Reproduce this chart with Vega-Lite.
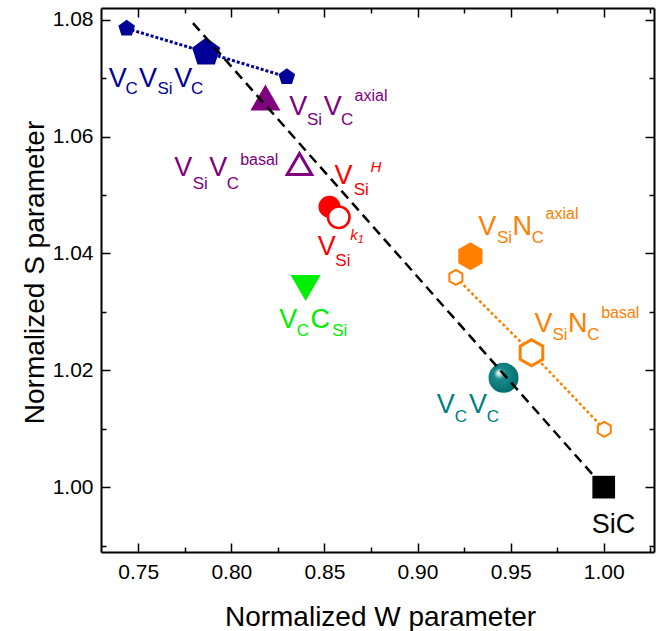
{
  "$schema": "https://vega.github.io/schema/vega-lite/v6.json",
  "width": 553,
  "height": 544,
  "autosize": {"type": "none"},
  "padding": {"left": 101, "top": 8, "right": 2, "bottom": 79},
  "background": "white",
  "config": {
    "view": {"stroke": null},
    "font": "Liberation Sans",
    "axis": {"grid": false, "labelFont": "Liberation Sans", "titleFont": "Liberation Sans", "domainColor": "black", "tickColor": "black", "labelColor": "black", "titleColor": "black"},
    "text": {"font": "Liberation Sans"}
  },
  "resolve": {"axis": {"x": "independent", "y": "independent"}},
  "datasets": {
    "pts": [
      {"kind": "pent_s", "series": "VCVSiVC", "x": 0.7438, "y": 1.0785},
      {"kind": "pent_l", "series": "VCVSiVC", "x": 0.7865, "y": 1.0744},
      {"kind": "pent_s", "series": "VCVSiVC", "x": 0.8298, "y": 1.0702},
      {"kind": "tri_f", "series": "VSiVC axial", "x": 0.8183, "y": 1.0667},
      {"kind": "tri_o", "series": "VSiVC basal", "x": 0.8366, "y": 1.0553},
      {"kind": "circ_f", "series": "VSi H", "x": 0.8527, "y": 1.048},
      {"kind": "circ_o", "series": "VSi k1", "x": 0.8577, "y": 1.0462},
      {"kind": "tri_d", "series": "VCCSi", "x": 0.8399, "y": 1.0341},
      {"kind": "hex_f", "series": "VSiNC axial", "x": 0.9284, "y": 1.0395},
      {"kind": "hex_s", "series": "VSiNC basal", "x": 0.9206, "y": 1.0359},
      {"kind": "hex_m", "series": "VSiNC basal", "x": 0.9612, "y": 1.023},
      {"kind": "hex_s", "series": "VSiNC basal", "x": 1.0003, "y": 1.0099},
      {"kind": "sphere", "series": "VCVC", "x": 0.9462, "y": 1.0187},
      {"kind": "square", "series": "SiC", "x": 1.0, "y": 1.0}
    ],
    "lines": [
      {"grp": "VCVSiVC", "o": 1, "x": 0.7438, "y": 1.0785},
      {"grp": "VCVSiVC", "o": 2, "x": 0.7865, "y": 1.0744},
      {"grp": "VCVSiVC", "o": 3, "x": 0.8298, "y": 1.0702},
      {"grp": "VSiNC", "o": 1, "x": 0.9206, "y": 1.0359},
      {"grp": "VSiNC", "o": 2, "x": 0.9612, "y": 1.023},
      {"grp": "VSiNC", "o": 3, "x": 1.0003, "y": 1.0099},
      {"grp": "guide", "o": 1, "x": 0.7794, "y": 1.0794},
      {"grp": "guide", "o": 2, "x": 1.0, "y": 1.0}
    ],
    "labels": [
      {"series": "VCVSiVC", "role": "main", "t": "V", "x": 0.739, "y": 1.0685},
      {"series": "VCVSiVC", "role": "sub", "t": "C", "x": 0.7465, "y": 1.0673},
      {"series": "VCVSiVC", "role": "main", "t": "V", "x": 0.7552, "y": 1.0685},
      {"series": "VCVSiVC", "role": "sub", "t": "Si", "x": 0.7644, "y": 1.0673},
      {"series": "VCVSiVC", "role": "main", "t": "V", "x": 0.7742, "y": 1.0685},
      {"series": "VCVSiVC", "role": "sub", "t": "C", "x": 0.7817, "y": 1.0673},
      {"series": "VSiVC", "role": "main", "t": "V", "x": 0.836, "y": 1.0637},
      {"series": "VSiVC", "role": "sub", "t": "Si", "x": 0.8447, "y": 1.062},
      {"series": "VSiVC", "role": "main", "t": "V", "x": 0.8544, "y": 1.0637},
      {"series": "VSiVC", "role": "sub", "t": "C", "x": 0.8622, "y": 1.062},
      {"series": "VSiVC", "role": "sup", "t": "axial", "x": 0.875, "y": 1.0661},
      {"series": "VSiVC", "role": "main", "t": "V", "x": 0.7742, "y": 1.0532},
      {"series": "VSiVC", "role": "sub", "t": "Si", "x": 0.7833, "y": 1.051},
      {"series": "VSiVC", "role": "main", "t": "V", "x": 0.793, "y": 1.0532},
      {"series": "VSiVC", "role": "sub", "t": "C", "x": 0.8008, "y": 1.051},
      {"series": "VSiVC", "role": "sup", "t": "basal", "x": 0.815, "y": 1.0551},
      {"series": "VSi", "role": "main", "t": "V", "x": 0.8602, "y": 1.0518},
      {"series": "VSi", "role": "sub", "t": "Si", "x": 0.8698, "y": 1.05},
      {"series": "VSi", "role": "supit", "t": "H", "x": 0.8776, "y": 1.054},
      {"series": "VSi", "role": "main", "t": "V", "x": 0.8513, "y": 1.0398},
      {"series": "VSi", "role": "sub", "t": "Si", "x": 0.8599, "y": 1.0379},
      {"series": "VSi", "role": "supit", "t": "k", "x": 0.8659, "y": 1.0423},
      {"series": "VSi", "role": "supsub", "t": "1", "x": 0.8696, "y": 1.0417},
      {"series": "VCCSi", "role": "main", "t": "V", "x": 0.8306, "y": 1.0272},
      {"series": "VCCSi", "role": "sub", "t": "C", "x": 0.8384, "y": 1.0258},
      {"series": "VCCSi", "role": "main", "t": "C", "x": 0.8478, "y": 1.0272},
      {"series": "VCCSi", "role": "sub", "t": "Si", "x": 0.8582, "y": 1.0258},
      {"series": "VSiNC", "role": "main", "t": "V", "x": 0.9374, "y": 1.0432},
      {"series": "VSiNC", "role": "sub", "t": "Si", "x": 0.9467, "y": 1.0418},
      {"series": "VSiNC", "role": "main", "t": "N", "x": 0.9563, "y": 1.0432},
      {"series": "VSiNC", "role": "sub", "t": "C", "x": 0.9647, "y": 1.0418},
      {"series": "VSiNC", "role": "sup", "t": "axial", "x": 0.9776, "y": 1.0459},
      {"series": "VSiNC", "role": "main", "t": "V", "x": 0.9677, "y": 1.0266},
      {"series": "VSiNC", "role": "sub", "t": "Si", "x": 0.9765, "y": 1.0252},
      {"series": "VSiNC", "role": "main", "t": "N", "x": 0.9861, "y": 1.0266},
      {"series": "VSiNC", "role": "sub", "t": "C", "x": 0.9944, "y": 1.0252},
      {"series": "VSiNC", "role": "sup", "t": "basal", "x": 1.0089, "y": 1.0289},
      {"series": "VCVC", "role": "main", "t": "V", "x": 0.9151, "y": 1.0127},
      {"series": "VCVC", "role": "sub", "t": "C", "x": 0.9233, "y": 1.0112},
      {"series": "VCVC", "role": "main", "t": "V", "x": 0.9325, "y": 1.0127},
      {"series": "VCVC", "role": "sub", "t": "C", "x": 0.9405, "y": 1.0112},
      {"series": "SiC", "role": "main", "t": "SiC", "x": 1.0053, "y": 0.9921}
    ]
  },
  "layer": [
    {
      "data": {"name": "lines"},
      "transform": [{"filter": "datum.grp === 'VCVSiVC'"}],
      "mark": {"type": "line", "color": "#000099", "strokeWidth": 3, "strokeDash": [3, 2]},
      "encoding": {
        "x": {"field": "x", "type": "quantitative", "scale": {"domain": [0.73, 1.027], "nice": false, "zero": false},
          "axis": {"orient": "bottom", "values": [0.75, 0.8, 0.85, 0.9, 0.95, 1.0], "format": ".2f", "tickSize": -9, "tickWidth": 1.5, "domainWidth": 2, "labelFontSize": 21, "labelPadding": 18, "labelFlush": false, "labelOverlap": false, "title": "Normalized W parameter", "titleFontSize": 28, "titleFontWeight": "normal", "titleBaseline": "alphabetic", "titleX": 279, "titleY": 73}},
        "y": {"field": "y", "type": "quantitative", "scale": {"domain": [0.9889, 1.082], "nice": false, "zero": false},
          "axis": {"orient": "left", "values": [1.0, 1.02, 1.04, 1.06, 1.08], "format": ".2f", "tickSize": -9, "tickWidth": 1.5, "domainWidth": 2, "labelFontSize": 21, "labelPadding": 17, "labelFlush": false, "labelOverlap": false, "title": "Normalized S parameter", "titleFontSize": 28, "titleFontWeight": "normal", "titleBaseline": "alphabetic", "titleX": -58, "titleY": 264, "titleAngle": 270}},
        "order": {"field": "o", "type": "quantitative"}
      }
    },
    {
      "data": {"name": "lines"},
      "transform": [{"filter": "datum.grp === 'VSiNC'"}],
      "mark": {"type": "line", "color": "#ff8000", "strokeWidth": 2.5, "strokeDash": [3, 2.5]},
      "encoding": {
        "x": {"field": "x", "type": "quantitative", "scale": {"domain": [0.73, 1.027], "nice": false, "zero": false},
          "axis": {"orient": "top", "values": [0.75, 0.8, 0.85, 0.9, 0.95, 1.0], "labels": false, "tickSize": -9, "tickWidth": 1.5, "domainWidth": 2, "title": null}},
        "y": {"field": "y", "type": "quantitative", "scale": {"domain": [0.9889, 1.082], "nice": false, "zero": false},
          "axis": {"orient": "right", "values": [1.0, 1.02, 1.04, 1.06, 1.08], "labels": false, "tickSize": -9, "tickWidth": 1.5, "domainWidth": 2, "title": null}},
        "order": {"field": "o", "type": "quantitative"}
      }
    },
    {
      "data": {"name": "pts"},
      "transform": [{"filter": "datum.kind === 'pent_s'"}],
      "mark": {"type": "point", "shape": "M0,-1L0.951,-0.309L0.588,0.809L-0.588,0.809L-0.951,-0.309Z", "filled": true, "color": "#000099", "opacity": 1, "size": 310},
      "encoding": {
        "x": {"field": "x", "type": "quantitative", "scale": {"domain": [0.73, 1.027], "nice": false, "zero": false},
          "axis": {"orient": "bottom", "values": [0.775, 0.825, 0.875, 0.925, 0.975, 1.025], "labels": false, "domain": false, "tickSize": -5, "tickWidth": 1.5, "title": null}},
        "y": {"field": "y", "type": "quantitative", "scale": {"domain": [0.9889, 1.082], "nice": false, "zero": false},
          "axis": {"orient": "left", "values": [0.99, 1.01, 1.03, 1.05, 1.07], "labels": false, "domain": false, "tickSize": -5, "tickWidth": 1.5, "title": null}}
      }
    },
    {
      "data": {"name": "pts"},
      "transform": [{"filter": "datum.kind === 'pent_l'"}],
      "mark": {"type": "point", "shape": "M0,-1L0.951,-0.309L0.588,0.809L-0.588,0.809L-0.951,-0.309Z", "filled": true, "color": "#000099", "opacity": 1, "size": 880},
      "encoding": {
        "x": {"field": "x", "type": "quantitative", "scale": {"domain": [0.73, 1.027], "nice": false, "zero": false},
          "axis": {"orient": "top", "values": [0.775, 0.825, 0.875, 0.925, 0.975, 1.025], "labels": false, "domain": false, "tickSize": -5, "tickWidth": 1.5, "title": null}},
        "y": {"field": "y", "type": "quantitative", "scale": {"domain": [0.9889, 1.082], "nice": false, "zero": false},
          "axis": {"orient": "right", "values": [0.99, 1.01, 1.03, 1.05, 1.07], "labels": false, "domain": false, "tickSize": -5, "tickWidth": 1.5, "title": null}}
      }
    },
    {
      "data": {"name": "pts"},
      "transform": [{"filter": "datum.kind === 'tri_f'"}],
      "mark": {"type": "point", "shape": "triangle-up", "filled": true, "color": "#800080", "opacity": 1, "size": 900},
      "encoding": {
        "x": {"field": "x", "type": "quantitative", "scale": {"domain": [0.73, 1.027], "nice": false, "zero": false}, "axis": null},
        "y": {"field": "y", "type": "quantitative", "scale": {"domain": [0.9889, 1.082], "nice": false, "zero": false}, "axis": null}
      }
    },
    {
      "data": {"name": "pts"},
      "transform": [{"filter": "datum.kind === 'tri_o'"}],
      "mark": {"type": "point", "shape": "triangle-up", "fill": "white", "stroke": "#800080", "strokeWidth": 3, "opacity": 1, "fillOpacity": 1, "size": 600},
      "encoding": {
        "x": {"field": "x", "type": "quantitative", "scale": {"domain": [0.73, 1.027], "nice": false, "zero": false}, "axis": null},
        "y": {"field": "y", "type": "quantitative", "scale": {"domain": [0.9889, 1.082], "nice": false, "zero": false}, "axis": null}
      }
    },
    {
      "data": {"name": "pts"},
      "transform": [{"filter": "datum.kind === 'circ_f'"}],
      "mark": {"type": "point", "shape": "circle", "filled": true, "color": "#ff0000", "opacity": 1, "size": 484},
      "encoding": {
        "x": {"field": "x", "type": "quantitative", "scale": {"domain": [0.73, 1.027], "nice": false, "zero": false}, "axis": null},
        "y": {"field": "y", "type": "quantitative", "scale": {"domain": [0.9889, 1.082], "nice": false, "zero": false}, "axis": null}
      }
    },
    {
      "data": {"name": "pts"},
      "transform": [{"filter": "datum.kind === 'circ_o'"}],
      "mark": {"type": "point", "shape": "circle", "fill": "white", "stroke": "#ff0000", "strokeWidth": 2.5, "opacity": 1, "fillOpacity": 1, "size": 462},
      "encoding": {
        "x": {"field": "x", "type": "quantitative", "scale": {"domain": [0.73, 1.027], "nice": false, "zero": false}, "axis": null},
        "y": {"field": "y", "type": "quantitative", "scale": {"domain": [0.9889, 1.082], "nice": false, "zero": false}, "axis": null}
      }
    },
    {
      "data": {"name": "pts"},
      "transform": [{"filter": "datum.kind === 'tri_d'"}],
      "mark": {"type": "point", "shape": "triangle-down", "filled": true, "color": "#00ee00", "opacity": 1, "size": 900},
      "encoding": {
        "x": {"field": "x", "type": "quantitative", "scale": {"domain": [0.73, 1.027], "nice": false, "zero": false}, "axis": null},
        "y": {"field": "y", "type": "quantitative", "scale": {"domain": [0.9889, 1.082], "nice": false, "zero": false}, "axis": null}
      }
    },
    {
      "data": {"name": "pts"},
      "transform": [{"filter": "datum.kind === 'hex_f'"}],
      "mark": {"type": "point", "shape": "M0,-1L0.866,-0.5L0.866,0.5L0,1L-0.866,0.5L-0.866,-0.5Z", "filled": true, "color": "#ff8000", "opacity": 1, "size": 784},
      "encoding": {
        "x": {"field": "x", "type": "quantitative", "scale": {"domain": [0.73, 1.027], "nice": false, "zero": false}, "axis": null},
        "y": {"field": "y", "type": "quantitative", "scale": {"domain": [0.9889, 1.082], "nice": false, "zero": false}, "axis": null}
      }
    },
    {
      "data": {"name": "pts"},
      "transform": [{"filter": "datum.kind === 'hex_s'"}],
      "mark": {"type": "point", "shape": "M0,-1L0.866,-0.5L0.866,0.5L0,1L-0.866,0.5L-0.866,-0.5Z", "fill": "white", "stroke": "#ff8000", "strokeWidth": 2, "opacity": 1, "fillOpacity": 1, "size": 225},
      "encoding": {
        "x": {"field": "x", "type": "quantitative", "scale": {"domain": [0.73, 1.027], "nice": false, "zero": false}, "axis": null},
        "y": {"field": "y", "type": "quantitative", "scale": {"domain": [0.9889, 1.082], "nice": false, "zero": false}, "axis": null}
      }
    },
    {
      "data": {"name": "pts"},
      "transform": [{"filter": "datum.kind === 'hex_m'"}],
      "mark": {"type": "point", "shape": "M0,-1L0.866,-0.5L0.866,0.5L0,1L-0.866,0.5L-0.866,-0.5Z", "fill": "white", "stroke": "#ff8000", "strokeWidth": 3, "opacity": 1, "fillOpacity": 1, "size": 680},
      "encoding": {
        "x": {"field": "x", "type": "quantitative", "scale": {"domain": [0.73, 1.027], "nice": false, "zero": false}, "axis": null},
        "y": {"field": "y", "type": "quantitative", "scale": {"domain": [0.9889, 1.082], "nice": false, "zero": false}, "axis": null}
      }
    },
    {
      "data": {"name": "pts"},
      "transform": [{"filter": "datum.kind === 'sphere'"}],
      "mark": {"type": "point", "shape": "circle", "filled": true, "opacity": 1, "strokeWidth": 0, "size": 900,
        "fill": {"gradient": "radial", "x1": 0.33, "y1": 0.33, "r1": 0, "x2": 0.45, "y2": 0.45, "r2": 0.6,
          "stops": [{"offset": 0, "color": "#ffffff"}, {"offset": 0.12, "color": "#b5dcdc"}, {"offset": 0.3, "color": "#1a8c8c"}, {"offset": 1, "color": "#006b6b"}]}},
      "encoding": {
        "x": {"field": "x", "type": "quantitative", "scale": {"domain": [0.73, 1.027], "nice": false, "zero": false}, "axis": null},
        "y": {"field": "y", "type": "quantitative", "scale": {"domain": [0.9889, 1.082], "nice": false, "zero": false}, "axis": null}
      }
    },
    {
      "data": {"name": "lines"},
      "transform": [{"filter": "datum.grp === 'guide'"}],
      "mark": {"type": "line", "color": "black", "strokeWidth": 2.5, "strokeDash": [10, 6]},
      "encoding": {
        "x": {"field": "x", "type": "quantitative", "scale": {"domain": [0.73, 1.027], "nice": false, "zero": false}, "axis": null},
        "y": {"field": "y", "type": "quantitative", "scale": {"domain": [0.9889, 1.082], "nice": false, "zero": false}, "axis": null},
        "order": {"field": "o", "type": "quantitative"}
      }
    },
    {
      "data": {"name": "pts"},
      "transform": [{"filter": "datum.kind === 'square'"}],
      "mark": {"type": "point", "shape": "square", "filled": true, "color": "black", "opacity": 1, "size": 515},
      "encoding": {
        "x": {"field": "x", "type": "quantitative", "scale": {"domain": [0.73, 1.027], "nice": false, "zero": false}, "axis": null},
        "y": {"field": "y", "type": "quantitative", "scale": {"domain": [0.9889, 1.082], "nice": false, "zero": false}, "axis": null}
      }
    },
    {
      "data": {"name": "labels"},
      "transform": [{"filter": "datum.role === 'main'"}],
      "mark": {"type": "text", "fontSize": 27, "align": "center", "baseline": "alphabetic"},
      "encoding": {
        "x": {"field": "x", "type": "quantitative", "scale": {"domain": [0.73, 1.027], "nice": false, "zero": false}, "axis": null},
        "y": {"field": "y", "type": "quantitative", "scale": {"domain": [0.9889, 1.082], "nice": false, "zero": false}, "axis": null},
        "text": {"field": "t"},
        "color": {"field": "series", "type": "nominal", "legend": null, "scale": {"domain": ["VCVSiVC", "VSiVC", "VSi", "VCCSi", "VSiNC", "VCVC", "SiC"], "range": ["#000099", "#800080", "#ff0000", "#00ee00", "#ff8000", "#008080", "#000000"]}}
      }
    },
    {
      "data": {"name": "labels"},
      "transform": [{"filter": "datum.role === 'sub'"}],
      "mark": {"type": "text", "fontSize": 17, "align": "center", "baseline": "alphabetic"},
      "encoding": {
        "x": {"field": "x", "type": "quantitative", "scale": {"domain": [0.73, 1.027], "nice": false, "zero": false}, "axis": null},
        "y": {"field": "y", "type": "quantitative", "scale": {"domain": [0.9889, 1.082], "nice": false, "zero": false}, "axis": null},
        "text": {"field": "t"},
        "color": {"field": "series", "type": "nominal", "legend": null, "scale": {"domain": ["VCVSiVC", "VSiVC", "VSi", "VCCSi", "VSiNC", "VCVC", "SiC"], "range": ["#000099", "#800080", "#ff0000", "#00ee00", "#ff8000", "#008080", "#000000"]}}
      }
    },
    {
      "data": {"name": "labels"},
      "transform": [{"filter": "datum.role === 'sup'"}],
      "mark": {"type": "text", "fontSize": 16, "align": "center", "baseline": "alphabetic"},
      "encoding": {
        "x": {"field": "x", "type": "quantitative", "scale": {"domain": [0.73, 1.027], "nice": false, "zero": false}, "axis": null},
        "y": {"field": "y", "type": "quantitative", "scale": {"domain": [0.9889, 1.082], "nice": false, "zero": false}, "axis": null},
        "text": {"field": "t"},
        "color": {"field": "series", "type": "nominal", "legend": null, "scale": {"domain": ["VCVSiVC", "VSiVC", "VSi", "VCCSi", "VSiNC", "VCVC", "SiC"], "range": ["#000099", "#800080", "#ff0000", "#00ee00", "#ff8000", "#008080", "#000000"]}}
      }
    },
    {
      "data": {"name": "labels"},
      "transform": [{"filter": "datum.role === 'supit'"}],
      "mark": {"type": "text", "fontSize": 15, "fontStyle": "italic", "align": "center", "baseline": "alphabetic"},
      "encoding": {
        "x": {"field": "x", "type": "quantitative", "scale": {"domain": [0.73, 1.027], "nice": false, "zero": false}, "axis": null},
        "y": {"field": "y", "type": "quantitative", "scale": {"domain": [0.9889, 1.082], "nice": false, "zero": false}, "axis": null},
        "text": {"field": "t"},
        "color": {"field": "series", "type": "nominal", "legend": null, "scale": {"domain": ["VCVSiVC", "VSiVC", "VSi", "VCCSi", "VSiNC", "VCVC", "SiC"], "range": ["#000099", "#800080", "#ff0000", "#00ee00", "#ff8000", "#008080", "#000000"]}}
      }
    },
    {
      "data": {"name": "labels"},
      "transform": [{"filter": "datum.role === 'supsub'"}],
      "mark": {"type": "text", "fontSize": 11, "fontStyle": "italic", "align": "center", "baseline": "alphabetic"},
      "encoding": {
        "x": {"field": "x", "type": "quantitative", "scale": {"domain": [0.73, 1.027], "nice": false, "zero": false}, "axis": null},
        "y": {"field": "y", "type": "quantitative", "scale": {"domain": [0.9889, 1.082], "nice": false, "zero": false}, "axis": null},
        "text": {"field": "t"},
        "color": {"field": "series", "type": "nominal", "legend": null, "scale": {"domain": ["VCVSiVC", "VSiVC", "VSi", "VCCSi", "VSiNC", "VCVC", "SiC"], "range": ["#000099", "#800080", "#ff0000", "#00ee00", "#ff8000", "#008080", "#000000"]}}
      }
    }
  ]
}
